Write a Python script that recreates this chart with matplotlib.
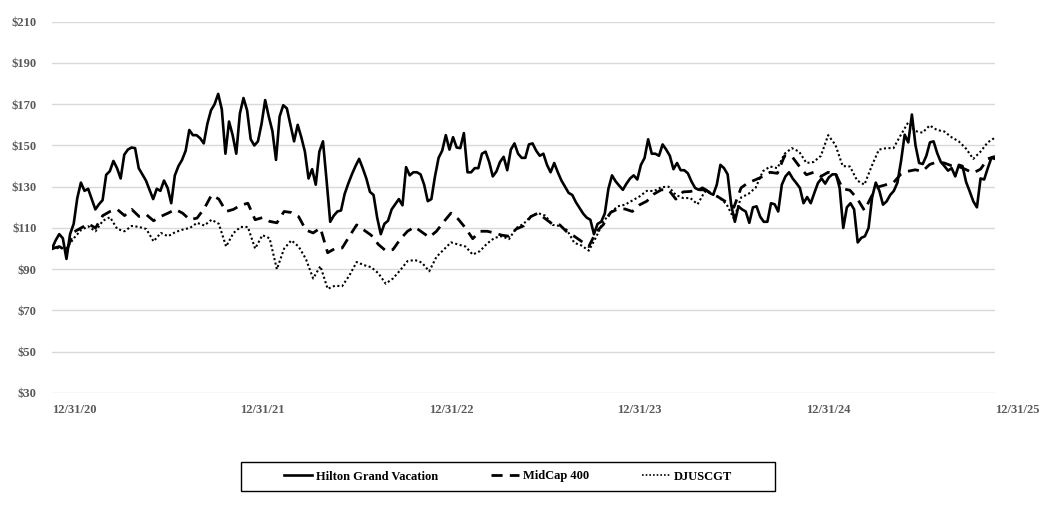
import matplotlib
matplotlib.use("Agg")
import matplotlib.pyplot as plt
import matplotlib.dates as mdates
from matplotlib.patches import Rectangle
from matplotlib.lines import Line2D
import pandas as pd

# ---------------- data (indexed value of $100 invested) ----------------
start_date = "2020-12-31"
end_date = "2025-12-31"

hilton = [
    100, 104, 107, 105, 95, 107, 112, 124.5, 132, 128,
    129, 124, 119, 121.5, 123.5, 135.8, 137.5, 142.5, 139, 134,
    145.5, 148, 149, 148.7, 139, 136, 133, 128.5, 124, 129,
    128, 133, 129.4, 122, 135.5, 140, 143, 147.5, 157.5, 155,
    155, 153.5, 151, 160.5, 167, 170, 175, 167.5, 146, 161.6,
    155, 146, 165.5, 173, 167, 153, 150, 152, 160.5, 172,
    164, 157, 143, 164, 169.5, 168, 160,
    152, 160, 154, 147, 134, 138.5, 131, 147, 152, 133,
    113, 116, 118, 118.5, 126.5, 131.5, 136, 140, 143.5, 139,
    134, 127.5, 126, 115, 107, 112, 113.5, 119, 121.5, 124,
    121, 139.5, 135.5, 137, 137, 136, 131, 123, 124, 135,
    144, 147.5, 155, 148, 154, 149, 148.7, 156, 137, 137,
    139, 139, 146, 147, 142, 135, 137.4, 142, 144.5, 138,
    148, 151, 146, 144,
    144, 150.5, 151, 147.5, 145, 146, 140.6, 137, 141.5, 137,
    133, 130, 127, 126, 122.5, 119.7, 117, 115, 114, 107,
    112, 113, 117, 129, 135.5, 132.6, 130.5, 128.5, 131.5, 134,
    135.5, 133.5, 140.6, 143.9, 153, 146, 146, 145, 150.5, 148,
    145, 138.5, 141.5, 138, 138, 136.5, 132.5, 129.4, 128.5, 129.5,
    128.5, 127, 126.1, 131, 140.6, 139, 136, 121, 113, 120.5,
    119, 118, 112.5, 120, 120.5, 115.5,
    113, 113, 122, 121.5, 118, 131, 135, 137, 134, 131.8,
    129.4, 122, 125, 122, 127, 131.8, 134, 131.5, 134.5, 136,
    136, 129.4, 110, 120, 122, 119, 103, 105.2, 106, 110,
    125, 132, 128, 121.3, 122.9, 126, 128, 132, 142.5, 155.2,
    151.5, 165, 150, 141.5, 141, 145, 151.5, 152, 146.3, 142,
    140, 137.8, 139, 135, 140.6, 140, 132.3, 127.7, 122.9, 120,
    134, 133.5, 139, 144, 143.5,
]

midcap = [
    100, 101, 99, 108, 110, 112, 110, 116, 118, 119,
    116, 119, 115.6, 116.5, 113.5, 115.6, 117.2, 119, 117.2, 114,
    114.8, 119.5, 126, 124, 118, 119, 121, 122, 114, 115,
    113.2, 112.5, 118, 117.5,
    115.5, 109, 107.6, 110, 98, 100, 100.3, 106, 111.5, 109,
    106.5, 102, 99, 99.5, 104.5, 108.4, 110.5, 108, 105.5, 108.4,
    113, 117.2, 114.3, 110, 104.8, 108.4, 108.4, 107.6, 106.5, 106,
    109.5, 111,
    115.5, 117.2, 114.5, 111.8, 111.5, 108, 106, 103.5, 101, 108,
    111.6, 117.5, 119.2, 119.2, 118, 121.2, 123, 126.5, 128.5, 128.5,
    124, 127.5, 127.7, 128.5, 128.5, 126.7, 124.7, 122.5, 120, 129.5,
    132, 133.4,
    135, 137, 136.5, 145, 144.7, 140, 135.8, 137, 135, 137,
    136.5, 129, 128.3, 124.3, 118.5, 125.5, 130, 131, 132, 136,
    137.5, 138.2, 137.5, 140.8, 142, 141.5, 140.2, 139.8, 138.3, 136.7,
    138.5, 143.5, 144.7,
]

djuscgt = [
    100, 100.3, 100, 105, 109, 110.8, 108.4, 113.5, 115.2, 109.5,
    108.4, 111, 110.5, 109.5, 103.5, 107.6, 106, 108, 109.2, 110,
    112.5, 111.2, 114, 112, 101, 107.5, 110.5, 110.5, 100, 106.5,
    105, 90, 100, 104,
    101, 95, 85.5, 91.5, 80.5, 82, 81.8, 87, 93.5, 92,
    91, 88, 83, 85.5, 89.5, 93.9, 94.5, 93.2, 89, 96,
    99.5, 103, 102, 101, 97.1, 98.8, 102.5, 105.2, 106, 104.6,
    110, 112,
    115.5, 117.2, 116, 111.5, 111, 109, 102.8, 101.5, 99, 105.5,
    113, 117.5, 120.5, 121.3, 123.3, 125.3, 128, 127.9, 129.8, 130,
    126, 124.5, 124.5, 121.5, 127.7, 127, 124.7, 121.5, 114.5, 124.8,
    126.5, 129.5,
    137.5, 139.8, 139, 146, 148.7, 147, 141.5, 142, 145, 155,
    150.3, 140, 139.8, 133, 131, 140, 148, 148.7, 148.7, 155,
    161, 157, 156.2, 159.7, 157.5, 156.8, 154, 152, 148.5, 143.5,
    147, 151.5, 153.8,
]

series_names = ["Hilton Grand Vacation", "MidCap 400", "DJUSCGT"]
x_tick_labels = ["12/31/20", "12/31/21", "12/31/22", "12/31/23", "12/31/24", "12/31/25"]
x_tick_dates = ["2020-12-31", "2021-12-31", "2022-12-31", "2023-12-31", "2024-12-31", "2025-12-31"]
y_ticks = [30, 50, 70, 90, 110, 130, 150, 170, 190, 210]

# ---------------- figure ----------------
W, H = 1049, 505
fig = plt.figure(figsize=(W / 100, H / 100), dpi=100)
fig.patch.set_facecolor("white")

left, right, top, bottom = 52, 995, 21.7, 393
ax = fig.add_axes([left / W, 1 - bottom / H, (right - left) / W, (bottom - top) / H])

FONT = ["Liberation Serif", "DejaVu Serif"]
LABEL_COLOR = "#595959"

d_h = pd.date_range(start_date, end_date, periods=len(hilton))
d_m = pd.date_range(start_date, end_date, periods=len(midcap))
d_d = pd.date_range(start_date, end_date, periods=len(djuscgt))

ax.plot(d_d, djuscgt, color="black", lw=1.5, linestyle=(0, (1, 1.2)), zorder=3)
ax.plot(d_m, midcap, color="black", lw=2.0, linestyle=(0, (4, 2.6)), zorder=4)
ax.plot(d_h, hilton, color="black", lw=1.9, linestyle="-", zorder=5)

ax.set_xlim(pd.Timestamp(start_date), pd.Timestamp(end_date))
ax.set_ylim(30, 210)
ax.set_yticks(y_ticks)
ax.set_yticklabels([f"${v}" for v in y_ticks])
ax.yaxis.grid(True, color="#d9d9d9", lw=1.0)
ax.set_axisbelow(True)
ax.set_xticks([pd.Timestamp(d) for d in x_tick_dates])
ax.set_xticklabels(x_tick_labels, ha="left")

for s in ax.spines.values():
    s.set_visible(False)
ax.tick_params(axis="both", length=0)
ax.tick_params(axis="y", pad=11)
ax.tick_params(axis="x", pad=8)
for lab in ax.get_xticklabels() + ax.get_yticklabels():
    lab.set_fontfamily(FONT)
    lab.set_fontweight("bold")
    lab.set_fontsize(9)
    lab.set_color(LABEL_COLOR)

# ---------------- legend ----------------
bx0, bx1, by0, by1 = 241, 775, 462, 491
fig.patches.append(Rectangle((bx0 / W, 1 - by1 / H), (bx1 - bx0) / W, (by1 - by0) / H,
                             transform=fig.transFigure, fill=False, edgecolor="black", lw=1.0))
handles = [
    Line2D([], [], color="black", lw=1.9, linestyle="-"),
    Line2D([], [], color="black", lw=2.0, linestyle=(0, (4, 2.6))),
    Line2D([], [], color="black", lw=1.2, linestyle=(0, (1, 1.2))),
]
fig.legend(handles, series_names, loc="center",
           bbox_to_anchor=((bx0 + bx1) / 2 / W, 1 - (by0 + by1) / 2 / H),
           ncol=3, frameon=False, handlelength=2.3, handletextpad=0.3, columnspacing=4.2,
           prop={"family": FONT, "weight": "bold", "size": 9})

fig.savefig("out.png", dpi=100, facecolor="white")
